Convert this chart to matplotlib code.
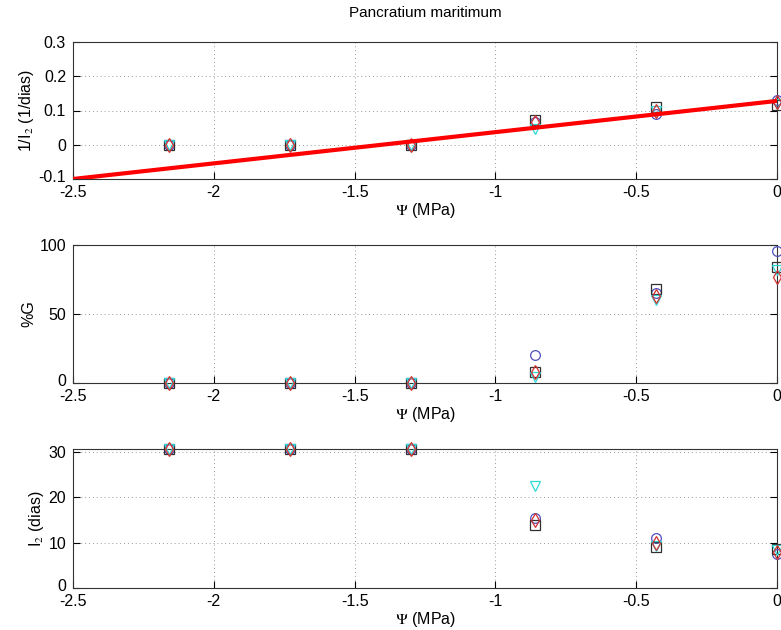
import numpy as np
import matplotlib.pyplot as plt
import matplotlib.transforms as mtransforms

plt.rcParams['font.family'] = ['Liberation Sans', 'DejaVu Sans']
plt.rcParams['mathtext.fontset'] = 'stix'

# water potential (MPa)
psi = [-2.16, -1.73, -1.30, -0.86, -0.43, 0.0]

# 1/I2 (1/dias) per replicate
inv_circle = [0, 0, 0, 0.065, 0.090, 0.132]
inv_square = [0, 0, 0, 0.071, 0.111, 0.115]
inv_tri = [0, 0, 0, 0.045, 0.100, 0.120]
inv_diam = [0, 0, 0, 0.066, 0.100, 0.125]

# %G per replicate
g_circle = [0, 0, 0, 20, 65, 96]
g_square = [0, 0, 0, 8, 68, 84]
g_tri = [0, 0, 0, 4, 60, 82]
g_diam = [0, 0, 0, 8, 63, 77]

# I2 (dias) per replicate
i2_circle = [30.7, 30.7, 30.7, 15.5, 11.0, 7.5]
i2_square = [30.7, 30.7, 30.7, 14.0, 9.0, 8.7]
i2_tri = [30.7, 30.7, 30.7, 22.5, 9.2, 8.3]
i2_diam = [30.7, 30.7, 30.7, 15.0, 10.0, 8.0]

# linear fit of 1/I2 vs psi
fit_slope = 0.0912
fit_intercept = 0.128

series_style = [
    dict(marker='o', color='#5050c0'),
    dict(marker='s', color='#303030'),
    dict(marker='v', color='#30d8d8'),
    dict(marker='d', color='#d03030'),
]

fig = plt.figure(figsize=(7.81, 6.30), dpi=100)
L, W = 73 / 781, 704 / 781


def make_ax(top, bottom):
    return fig.add_axes([L, 1 - bottom / 630, W, (bottom - top) / 630])


def style(ax, ylim, yticks, ylabel):
    ax.set_xlim(-2.5, 0)
    ax.set_xticks(np.arange(-2.5, 0.01, 0.5))
    ax.set_xticklabels(['-2.5', '-2', '-1.5', '-1', '-0.5', '0'])
    ax.set_ylim(*ylim)
    ax.set_yticks(yticks)
    ax.set_ylabel(ylabel, fontsize=11.5, labelpad=2)
    ax.set_xlabel(r'$\mathrm{\Psi}$ (MPa)', fontsize=11.5, labelpad=0.5)
    ax.grid(True, linestyle=(0, (1, 3)), color='#999999', linewidth=0.7)
    ax.tick_params(direction='in', length=5, labelsize=11.5, top=False, right=True)
    ax.tick_params(axis='x', pad=4.5)
    ax.tick_params(axis='y', pad=5)
    for s in ax.spines.values():
        s.set_color('#333333')
    # lift the lowest y tick label a little so it clears the x tick labels
    lift = mtransforms.ScaledTranslation(0, 3 / 100, fig.dpi_scale_trans)
    low = ax.get_yticklabels()[0]
    low.set_transform(low.get_transform() + lift)


def scatter_all(ax, sets):
    for ys, st in zip(sets, series_style):
        ax.plot(psi, ys, linestyle='none', marker=st['marker'], markersize=7,
                markerfacecolor='none', markeredgecolor=st['color'],
                markeredgewidth=0.9, clip_on=False, zorder=4)


ax1 = make_ax(42, 179)
scatter_all(ax1, [inv_circle, inv_square, inv_tri, inv_diam])
xf = np.array([-2.5, 0.0])
ax1.plot(xf, fit_slope * xf + fit_intercept, color='red', linewidth=3, zorder=5)
ax1.set_yticks([-0.1, 0, 0.1, 0.2, 0.3])
ax1.set_yticklabels(['-0.1', '0', '0.1', '0.2', '0.3'])
style(ax1, (-0.1, 0.3), [-0.1, 0, 0.1, 0.2, 0.3], r'1/I$_2$ (1/dias)')
ax1.set_title('Pancratium maritimum', fontsize=11, pad=18)

ax2 = make_ax(245, 383)
scatter_all(ax2, [g_circle, g_square, g_tri, g_diam])
style(ax2, (0, 100), [0, 50, 100], '%G')

ax3 = make_ax(449, 588)
scatter_all(ax3, [i2_circle, i2_square, i2_tri, i2_diam])
style(ax3, (0, 30.7), [0, 10, 20, 30], r'I$_2$ (dias)')

fig.savefig('out.png', dpi=100)
